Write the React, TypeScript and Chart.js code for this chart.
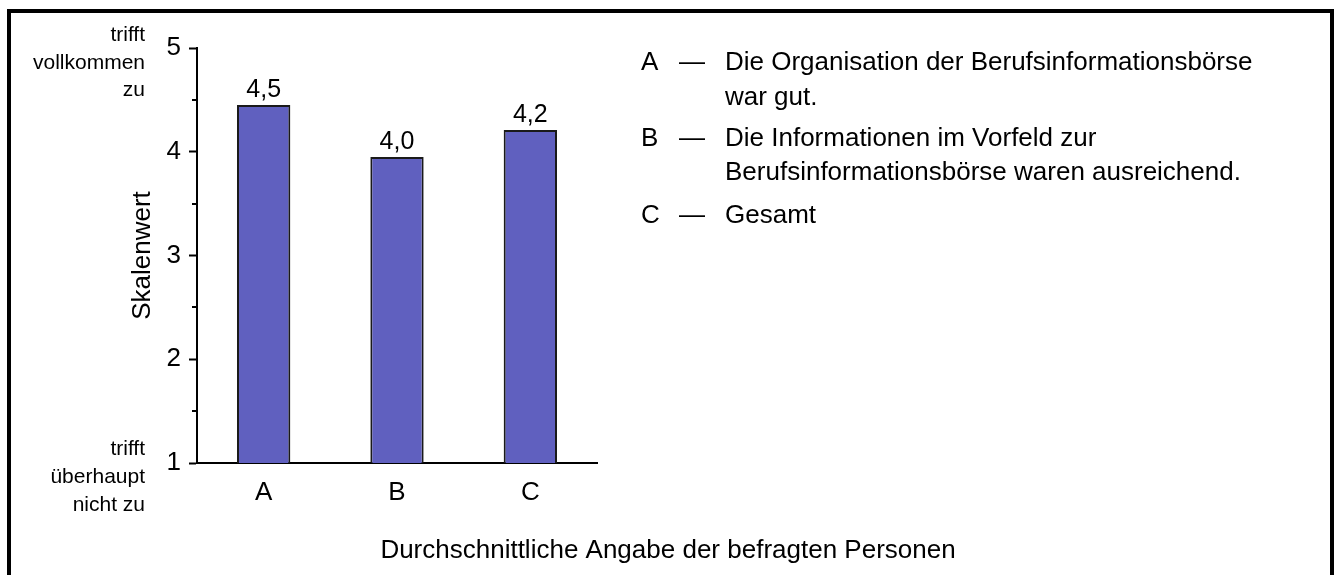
import React, { useEffect, useRef } from "react";
import { Chart, registerables } from "chart.js";

Chart.register(...registerables);

const categories = ["A", "B", "C"];
const values = [4.45, 3.95, 4.21];
const valueLabels = ["4,5", "4,0", "4,2"];
const legendKeys = ["A", "B", "C"];
const legendTexts = [
  ["Die Organisation der Berufsinformationsbörse", "war gut."],
  ["Die Informationen im Vorfeld zur", "Berufsinformationsbörse waren ausreichend."],
  ["Gesamt"],
];
const topNote = ["trifft", "vollkommen", "zu"];
const bottomNote = ["trifft", "überhaupt", "nicht zu"];
const yTitle = "Skalenwert";
const xTitle = "Durchschnittliche Angabe der befragten Personen";
const yMin = 1;
const yMax = 5;
const yMinorStep = 0.5;

const FONT = "'Liberation Sans', Arial, Helvetica, sans-serif";

const extrasPlugin = {
  id: "extras",
  afterDraw(chart: any) {
    const ctx = chart.ctx as CanvasRenderingContext2D;
    const yScale = chart.scales.y;
    ctx.save();
    ctx.fillStyle = "#000";
    ctx.strokeStyle = "#000";

    // minor ticks
    ctx.lineWidth = 2;
    for (let v = yMin + yMinorStep; v < yMax; v += yMinorStep) {
      if (Number.isInteger(v)) continue;
      const py = Math.round(yScale.getPixelForValue(v));
      ctx.beginPath();
      ctx.moveTo(yScale.right - 5, py);
      ctx.lineTo(yScale.right, py);
      ctx.stroke();
    }

    // value labels
    ctx.font = `25px ${FONT}`;
    ctx.textAlign = "center";
    ctx.textBaseline = "alphabetic";
    const meta = chart.getDatasetMeta(0);
    meta.data.forEach((bar: any, i: number) => {
      ctx.fillText(valueLabels[i], bar.x, bar.y - 8);
    });

    // y notes
    ctx.font = `21px ${FONT}`;
    ctx.textAlign = "right";
    const topBase = [41, 68.5, 96];
    topNote.forEach((t, i) => ctx.fillText(t, 145, topBase[i]));
    const botBase = [455, 483, 511];
    bottomNote.forEach((t, i) => ctx.fillText(t, 145, botBase[i]));

    // y title
    ctx.save();
    ctx.font = `26px ${FONT}`;
    ctx.textAlign = "center";
    ctx.textBaseline = "middle";
    ctx.translate(143, (yScale.top + yScale.bottom) / 2);
    ctx.rotate(-Math.PI / 2);
    ctx.fillText(yTitle, 0, 0);
    ctx.restore();

    // x title
    ctx.font = `26px ${FONT}`;
    ctx.textAlign = "center";
    ctx.textBaseline = "alphabetic";
    ctx.fillText(xTitle, 668, 558);

    // legend
    ctx.textAlign = "left";
    const bases = [[70, 105], [146, 180], [223]];
    legendKeys.forEach((k, i) => {
      ctx.fillText(k, 641, bases[i][0]);
      ctx.fillText("\u2014", 679, bases[i][0]);
      legendTexts[i].forEach((line, j) => {
        ctx.fillText(line, 725, bases[i][j]);
      });
    });
    ctx.restore();
  },
};

export default function App() {
  const ref = useRef<HTMLCanvasElement | null>(null);
  useEffect(() => {
    if (!ref.current) return;
    const chart = new Chart(ref.current, {
      type: "bar",
      data: {
        labels: categories,
        datasets: [
          {
            data: values,
            backgroundColor: "#6060BF",
            borderColor: "#1a1a1a",
            borderWidth: 2,
            barPercentage: 0.4,
            categoryPercentage: 1,
          },
        ],
      },
      options: {
        responsive: false,
        animation: false,
        layout: { padding: { left: 137, top: 48, right: 741, bottom: 0 } },
        plugins: { legend: { display: false }, tooltip: { enabled: false } },
        scales: {
          x: {
            grid: { display: false, drawTicks: false },
            border: { display: true, color: "#000", width: 2 },
            ticks: { color: "#000", font: { size: 26, family: FONT }, padding: 14 },
            afterFit: (s: any) => {
              s.height = 112;
            },
          },
          y: {
            min: yMin,
            max: yMax,
            ticks: {
              stepSize: yMinorStep,
              color: "#000",
              font: { size: 26, family: FONT },
              padding: 8,
              callback: (v: any) => (Number.isInteger(v) ? String(v) : ""),
            },
            grid: {
              drawOnChartArea: false,
              tickLength: 8,
              tickWidth: 2,
              tickColor: (c: any) =>
                c.tick && Number.isInteger(c.tick.value) ? "#000" : "rgba(0,0,0,0)",
            },
            border: { display: true, color: "#000", width: 2 },
            afterFit: (s: any) => {
              s.width = 60;
            },
          },
        },
      },
      plugins: [extrasPlugin],
    });
    return () => chart.destroy();
  }, []);

  return (
    <div
      style={{
        position: "fixed",
        left: 0,
        top: 0,
        width: 1338,
        height: 575,
        overflow: "hidden",
        background: "#fff",
      }}
    >
      <div
        style={{
          position: "absolute",
          left: 7,
          top: 9,
          width: 1327,
          height: 620,
          boxSizing: "border-box",
          border: "4px solid #000",
        }}
      />
      <canvas
        ref={ref}
        width={1338}
        height={575}
        style={{ position: "absolute", left: 0, top: 0, width: 1338, height: 575 }}
      />
    </div>
  );
}
